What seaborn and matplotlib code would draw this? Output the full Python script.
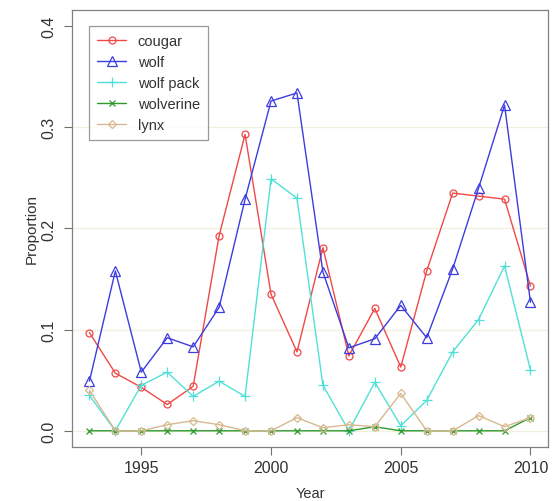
import numpy as np
import matplotlib
matplotlib.use("Agg")
import matplotlib.pyplot as plt
import seaborn as sns

years = list(range(1993, 2011))

cougar = [0.097, 0.057, 0.043, 0.026, 0.044, 0.193, 0.293, 0.135, 0.078, 0.181,
          0.074, 0.121, 0.063, 0.158, 0.235, 0.232, 0.229, 0.143]
wolf = [0.049, 0.158, 0.058, 0.092, 0.083, 0.122, 0.229, 0.326, 0.334, 0.157,
        0.082, 0.091, 0.124, 0.092, 0.160, 0.240, 0.322, 0.127]
wolf_pack = [0.035, 0.0, 0.045, 0.058, 0.034, 0.049, 0.034, 0.249, 0.230, 0.045,
             0.0, 0.048, 0.005, 0.030, 0.078, 0.110, 0.163, 0.060]
wolverine = [0.0, 0.0, 0.0, 0.0, 0.0, 0.0, 0.0, 0.0, 0.0, 0.0,
             0.0, 0.004, 0.0, 0.0, 0.0, 0.0, 0.0, 0.013]
lynx = [0.040, 0.0, 0.0, 0.006, 0.010, 0.006, 0.0, 0.0, 0.013, 0.003,
        0.006, 0.004, 0.037, 0.0, 0.0, 0.015, 0.004, 0.013]

species = ["cougar", "wolf", "wolf pack", "wolverine", "lynx"]
series = [cougar, wolf, wolf_pack, wolverine, lynx]
colors = ["#f04848", "#3c3ce0", "#50e0d8", "#2e9a2e", "#d8b890"]
markers = ["o", "^", "+", "x", "D"]
msizes = [5, 6.5, 7, 5, 4.5]

sns.set_style("white")
plt.rcParams["font.family"] = ["Liberation Sans", "DejaVu Sans"]

fig = plt.figure(figsize=(5.52, 5.02), dpi=100)
ax = fig.add_axes([0.130, 0.1076, 0.863, 0.8705])

# faint horizontal reference lines
for yv in [0.0, 0.1, 0.2, 0.3]:
    ax.axhline(yv, color="#f2f0dc", lw=1.0, zorder=0)

for name, vals, c, m, ms in zip(species, series, colors, markers, msizes):
    sns.lineplot(x=years, y=vals, ax=ax, color=c, marker=m, markersize=ms,
                 markerfacecolor="none", markeredgecolor=c, markeredgewidth=0.9,
                 lw=1.0, label=name)

ax.set_xlim(1992.32, 2010.68)
ax.set_ylim(-0.016, 0.416)
ax.set_xticks([1995, 2000, 2005, 2010])
ax.set_yticks([0.0, 0.1, 0.2, 0.3, 0.4])
ax.set_yticklabels(["0.0", "0.1", "0.2", "0.3", "0.4"], rotation=90, va="center")
ax.tick_params(axis="both", direction="out", length=6, width=0.8, color="#707070",
               labelsize=11.5, labelcolor="#333333", bottom=True, left=True)
ax.tick_params(axis="y", pad=5)
ax.set_xlabel("Year", fontsize=10.5, color="#333333", labelpad=8)
ax.set_ylabel("Proportion", fontsize=11, color="#333333", labelpad=2)
for s in ax.spines.values():
    s.set_color("#808080")
    s.set_linewidth(0.9)

leg = ax.legend(loc="upper left", bbox_to_anchor=(0.036, 0.963), fontsize=10.5,
                frameon=True, fancybox=False, handlelength=2.0,
                borderaxespad=0, borderpad=0.55, labelspacing=0.48,
                handletextpad=0.8)
leg.get_frame().set_edgecolor("#808080")
leg.get_frame().set_linewidth(0.9)
for t in leg.get_texts():
    t.set_color("#333333")

fig.savefig("out.png", dpi=100)
